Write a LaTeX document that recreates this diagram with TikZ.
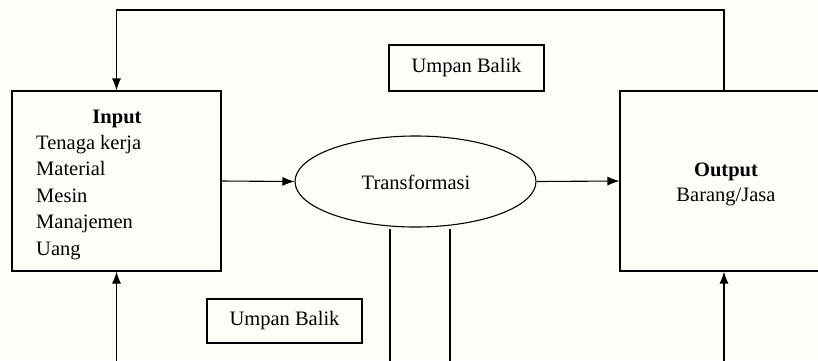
\documentclass[tikz,border=0pt]{standalone}
\usepackage{fontspec}
\setmainfont{Liberation Serif}
\usetikzlibrary{shapes.geometric,arrows.meta}
\definecolor{bgcream}{RGB}{254,254,249}
\tikzset{
  box/.style={draw, line width=1.1pt, inner sep=0pt},
  lbl/.style={inner sep=0pt, font=\fontsize{20.5}{25}\selectfont},
  arr/.style={line width=1.1pt, -{Latex[length=12pt,width=9pt]}},
  ln/.style={line width=1.1pt},
}
\begin{document}
\begin{tikzpicture}[x=1pt,y=-1pt]
\useasboundingbox (0,0) rectangle (818,360);
\clip (0,0) rectangle (818,360);
\fill[bgcream] (0,0) rectangle (818,360);
% boxes
\node[box, minimum width=209pt, minimum height=180pt] (in) at (116.5,181) {};
\node[box, minimum width=212pt, minimum height=180pt] (out) at (726,181) {};
\node[box, ellipse, minimum width=241pt, minimum height=91pt] (tr) at (415.5,181.5) {};
\node[box, minimum width=155pt, minimum height=46pt] (fbtop) at (466.5,68) {};
\node[box, minimum width=155pt, minimum height=44pt] (fbbot) at (284.5,321) {};
% texts
\node[lbl, anchor=base] (intitle) at (117,123) {\textbf{Input}};
\node[lbl, anchor=base west] (in1) at (36,149) {Tenaga kerja};
\node[lbl, anchor=base west] (in2) at (36,175.5) {Material};
\node[lbl, anchor=base west] (in3) at (36,202) {Mesin};
\node[lbl, anchor=base west] (in4) at (36,228.5) {Manajemen};
\node[lbl, anchor=base west] (in5) at (36,255) {Uang};
\node[lbl, anchor=base] (outtitle) at (726,176) {\textbf{Output}};
\node[lbl, anchor=base] (out1) at (726,201.5) {Barang/Jasa};
\node[lbl, anchor=base] (trtext) at (416,189) {Transformasi};
\node[lbl] (fbtoptext) at (fbtop.center) {Umpan Balik};
\node[lbl] (fbbottext) at (fbbot.center) {Umpan Balik};
% coordinates
\coordinate (topL) at (116.5,10);
\coordinate (topR) at (724,10);
\coordinate (botL) at (116.5,362);
\coordinate (botR) at (724,362);
\coordinate (vl1) at (390,362);
\coordinate (vl2) at (450,362);
% connectors
\draw[arr] (topR |- out.north) -- (topR) -- (topL) -- (in.north);
\draw[arr] (in.east) -- (tr.west);
\draw[arr] (tr.east) -- (out.west);
\draw[arr] (botL) -- (in.south);
\draw[arr] (botR) -- (botR |- out.south);
\draw[ln] ([yshift=-1pt]vl1 |- tr.south) -- (vl1);
\draw[ln] ([yshift=-1pt]vl2 |- tr.south) -- (vl2);
\end{tikzpicture}
\end{document}
